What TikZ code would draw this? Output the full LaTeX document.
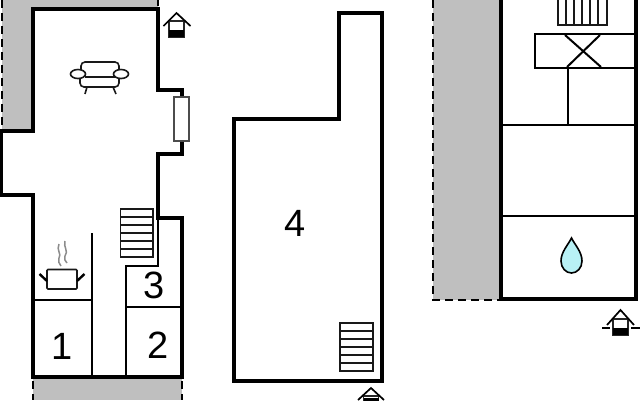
\documentclass[tikz,border=0pt]{standalone}
\usepackage{fontspec}
\setmainfont{Liberation Sans}
\usepackage{tikz}

\definecolor{yardgrey}{HTML}{BFBFBF}
\definecolor{dropblue}{HTML}{B8F1F5}

\begin{document}
\begin{tikzpicture}[
  x=1pt,y=-1pt,
  wall/.style={draw=black,line width=3.8pt,miter limit=10},
  inner/.style={draw=black,line width=2pt},
  thin/.style={draw=black!90,line width=1.6pt},
  yard/.style={fill=yardgrey,draw=none},
  limit/.style={draw=black,line width=2pt,dash pattern=on 8pt off 5pt},
  number/.style={font=\fontsize{38}{38}\selectfont,inner sep=0pt}
]
\useasboundingbox (0,0) rectangle (640,400);

% grey yards
\fill[yard] (2,0) -- (158,0) -- (158,9) -- (33,9) -- (33,131) -- (2,131) -- cycle;
\fill[yard] (33,379) rectangle (182,400);
\fill[yard] (433,0) rectangle (501,300);
\draw[limit] (2,0) -- (2,128);
\draw[limit] (158,0) -- (158,6);
\draw[limit] (33,381) -- (33,400);
\draw[limit] (182,381) -- (182,400);
\draw[limit] (433,0) -- (433,300) -- (500,300);

% left plan
\draw[wall] (33,9) -- (158,9) -- (158,90) -- (182,90) -- (182,154) -- (158,154) -- (158,218)
  -- (182,218) -- (182,377) -- (33,377) -- (33,195) -- (1,195) -- (1,131) -- (33,131) -- cycle;
\draw[inner] (91.5,233) -- (91.5,377);
\draw[inner] (33,300) -- (91.5,300);
\draw[inner] (158,218) -- (158,266) -- (126,266) -- (126,377);
\draw[inner] (126,307) -- (182,307);
\filldraw[fill=white,draw=black!70,line width=1.8pt] (174,97) rectangle (189,141);

% stairs
\draw[thin] (120.5,209) rectangle (153,257);
\foreach \y in {217,225,233,241,249}
  \draw[thin] (120.5,\y) -- (153,\y);

% sofa
\draw[thin,rounded corners=4pt] (81,71) -- (81,62) -- (119,62) -- (119,71);
\draw[thin] (85,77) -- (115,77);
\draw[thin,rounded corners=4pt] (80,78) -- (80,87) -- (119,87) -- (119,78);
\filldraw[thin,fill=white] (78,74) ellipse (7.5 and 4.5);
\filldraw[thin,fill=white] (121,74) ellipse (7.5 and 4.5);
\draw[thin] (87,87) -- (85,94);
\draw[thin] (113,87) -- (116,94);

% pot
\draw[thin,rounded corners=1pt] (47,269.5) -- (77,269.5) -- (77,289) -- (47,289) -- cycle;
\draw[line width=2.4pt] (39.5,274) -- (47,281);
\draw[line width=2.4pt] (77,281) -- (84.5,274);
\draw[draw=black!45,line width=1.5pt] (59,244) .. controls (56,250) and (62,254) .. (59,258) .. controls (58,261) and (59,264) .. (61,266);
\draw[draw=black!45,line width=1.5pt] (65,241) .. controls (63,247) and (69,251) .. (65,256) .. controls (64,259) and (65,261) .. (67,263);

% entrance top left
\filldraw[fill=white,draw=black!85,line width=1.3pt] (169,21) rectangle (184,37);
\fill[black] (169,30) rectangle (184,37);
\draw[line width=1.7pt] (163.5,26) -- (176.5,13) -- (190.5,26);

% numbers
\node[number] (one) at (62.5,346) {1};
\node[number] (two) at (158,345) {2};
\node[number] (three) at (154.5,285) {3};
\node[number] (four) at (295,223) {4};

% middle plan
\draw[wall] (234,119) -- (339,119) -- (339,13) -- (382,13) -- (382,381) -- (234,381) -- cycle;
\draw[thin] (340,323) rectangle (373,371);
\foreach \y in {331,339,347,355,363}
  \draw[thin] (340,\y) -- (373,\y);

% entrance middle
\begin{scope}
\clip (350,380) rectangle (395,400);
\filldraw[fill=white,draw=black!85,line width=1.3pt] (363.5,396) rectangle (378.5,410);
\fill[black] (363.5,398) rectangle (378.5,410);
\draw[line width=1.7pt] (358,400) -- (371,388) -- (384,400);
\end{scope}

% right plan
\draw[wall] (501,-3) -- (501,299) -- (636,299) -- (636,-3);
\draw[inner] (501,125) -- (636,125);
\draw[inner] (501,216) -- (636,216);
\draw[inner] (636,34) -- (535,34) -- (535,68) -- (636,68);
\draw[inner] (565,35) -- (601,67);
\draw[inner] (600,35) -- (567,67);
\draw[inner] (568,68) -- (568,125);
\draw[thin] (558,-2) rectangle (607,25);
\foreach \x in {566,574,582,590,598}
  \draw[thin] (\x,0) -- (\x,25);

% drop
\filldraw[fill=dropblue,draw=black,line width=1.6pt] (571.5,238) .. controls (568,245) and (561,252) .. (561,261)
  .. controls (561,268) and (566,273) .. (571.5,273) .. controls (577,273) and (582,268) .. (582,261)
  .. controls (582,252) and (575,245) .. (571.5,238) -- cycle;

% entrance right
\draw[line width=1.5pt] (602,328) -- (610,328);
\draw[line width=1.5pt] (631,328) -- (640,328);
\filldraw[fill=white,draw=black!85,line width=1.3pt] (613,319) rectangle (628,335);
\fill[black] (613,328) rectangle (628,335);
\draw[line width=1.7pt] (607,325) -- (620.5,310) -- (634,325);

\end{tikzpicture}
\end{document}
